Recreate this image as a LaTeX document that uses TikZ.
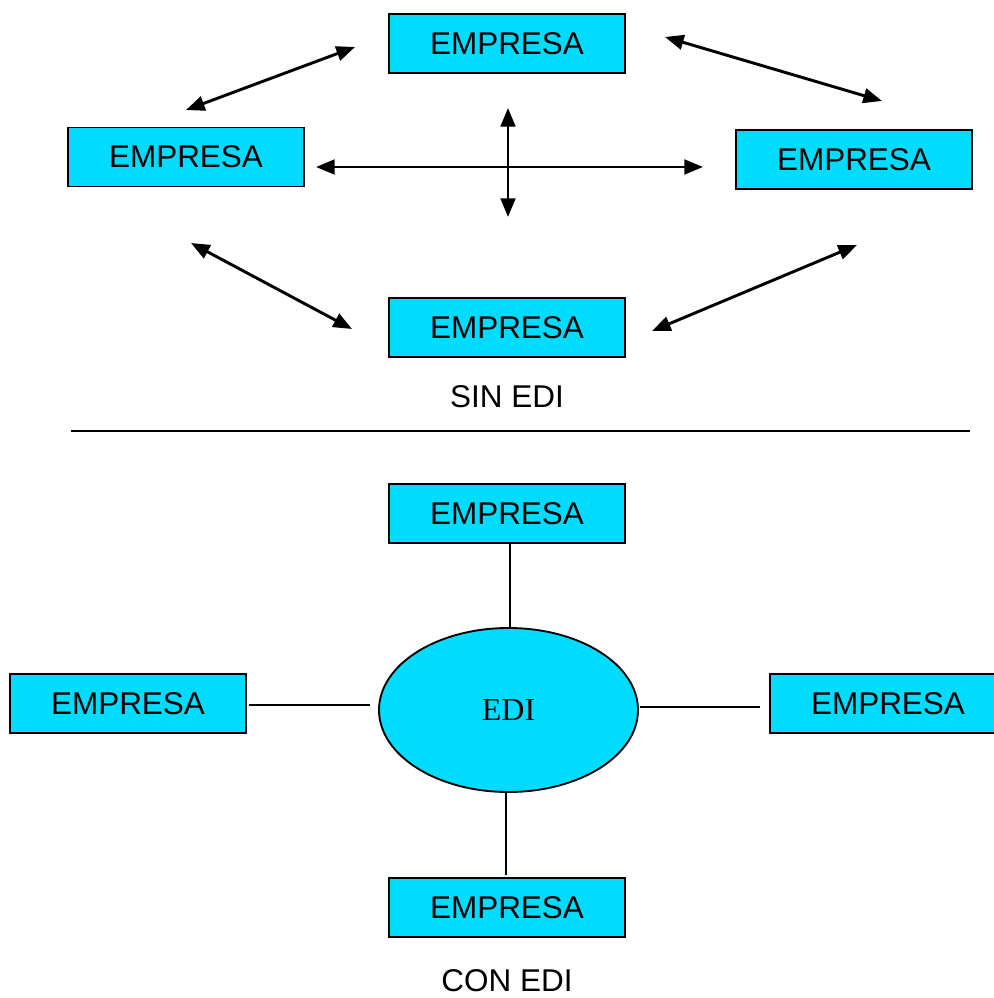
\documentclass[tikz,border=0pt]{standalone}
\usepackage{fontspec}
\setmainfont{Liberation Serif}
\newfontfamily\arialf{Liberation Sans}
\usetikzlibrary{arrows.meta,shapes.geometric}
\definecolor{boxcyan}{HTML}{00DCFF}
\tikzset{
  empbox/.style={draw=black, line width=1.4pt, fill=boxcyan, minimum width=236*0.75pt, minimum height=59*0.75pt, inner sep=0pt, font=\arialf\fontsize{23.6}{27}\selectfont},
  ediell/.style={ellipse, draw=black, line width=1.4pt, fill=boxcyan, minimum width=259*0.75pt, minimum height=164*0.75pt, inner sep=0pt, font=\fontsize{24}{28}\selectfont},
  dbl/.style={line width=2.2pt, {Triangle[length=14pt,width=11pt]}-{Triangle[length=14pt,width=11pt]}},
  plain/.style={line width=1.1pt},
  lbl/.style={font=\arialf\fontsize{23.6}{27}\selectfont, inner sep=0pt}
}
\begin{document}
\begin{tikzpicture}[x=0.75pt, y=-0.75pt]
\useasboundingbox (0,0) rectangle (993,998);
% upper part: SIN EDI
\node[empbox] (t) at (507,43.5) {EMPRESA};
\node[empbox] (l) at (186,157) {EMPRESA};
\node[empbox] (r) at (854,159.5) {EMPRESA};
\node[empbox] (b) at (507,327.5) {EMPRESA};
\node[lbl] (sin) at (507,397) {SIN EDI};
\coordinate (a1s) at (355,47); \coordinate (a1e) at (186,110);
\coordinate (a2s) at (665,37); \coordinate (a2e) at (882,101);
\coordinate (a3s) at (316,167); \coordinate (a3e) at (703,167);
\coordinate (a4s) at (508,108); \coordinate (a4e) at (508,217);
\coordinate (a5s) at (191,243); \coordinate (a5e) at (352,329);
\coordinate (a6s) at (857,245); \coordinate (a6e) at (652,331);
\draw[dbl] (a1s) -- (a1e);
\draw[dbl] (a2s) -- (a2e);
\draw[dbl] (a3s) -- (a3e);
\draw[dbl] (a4s) -- (a4e);
\draw[dbl] (a5s) -- (a5e);
\draw[dbl] (a6s) -- (a6e);
% separator
\coordinate (sepL) at (71,431); \coordinate (sepR) at (970,431);
\draw[plain] (sepL) -- (sepR);
% lower part: CON EDI
\node[ediell] (edi) at (508.5,710) {EDI};
\node[empbox] (bt) at (507,513.5) {EMPRESA};
\node[empbox] (bl) at (128,703.5) {EMPRESA};
\node[empbox] (br) at (888,703.5) {EMPRESA};
\node[empbox] (bb) at (507,907.5) {EMPRESA};
\node[lbl] (con) at (507,981) {CON EDI};
\coordinate (c1s) at (510,543); \coordinate (c1e) at (510,628);
\coordinate (c2s) at (249,705); \coordinate (c2e) at (370,705);
\coordinate (c3s) at (640,707); \coordinate (c3e) at (760,707);
\coordinate (c4s) at (506,792); \coordinate (c4e) at (506,875);
\draw[plain] (c1s) -- (c1e);
\draw[plain] (c2s) -- (c2e);
\draw[plain] (c3s) -- (c3e);
\draw[plain] (c4s) -- (c4e);
\end{tikzpicture}
\end{document}
